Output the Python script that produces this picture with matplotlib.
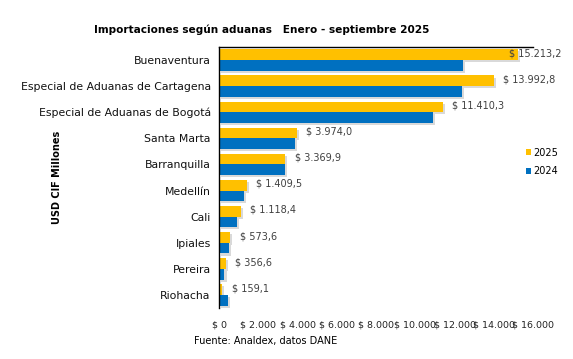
import matplotlib.pyplot as plt
import matplotlib.patheffects as pe
import numpy as np

aduanas = ['Buenaventura', 'Especial de Aduanas de Cartagena', 'Especial de Aduanas de Bogotá',
           'Santa Marta', 'Barranquilla', 'Medellín', 'Cali', 'Ipiales', 'Pereira', 'Riohacha']
valores_2025 = [15213.2, 13992.8, 11410.3, 3974.0, 3369.9, 1409.5, 1118.4, 573.6, 356.6, 159.1]
valores_2024 = [12450, 12400, 10900, 3850, 3350, 1250, 930, 530, 280, 450]
etiquetas_2025 = ['$ 15.213,2', '$ 13.992,8', '$ 11.410,3', '$ 3.974,0', '$ 3.369,9',
                  '$ 1.409,5', '$ 1.118,4', '$ 573,6', '$ 356,6', '$ 159,1']
ticks_x = [0, 2000, 4000, 6000, 8000, 10000, 12000, 14000, 16000]
ticks_lbl = ['$ 0', '$ 2.000', '$ 4.000', '$ 6.000', '$ 8.000', '$ 10.000', '$ 12.000', '$ 14.000', '$ 16.000']

amarillo = '#FFC000'
azul = '#0070C0'

fig = plt.figure(figsize=(5.73, 3.59), dpi=100)
ax = fig.add_axes([219 / 573, 1 - 308 / 359, (533 - 219) / 573, (308 - 47) / 359])

y = np.arange(len(aduanas))
h = 0.41
sombra = [pe.SimplePatchShadow(offset=(1.5, -1.5), alpha=0.2, shadow_rgbFace='#444444'), pe.Normal()]
b25 = ax.barh(y - h / 2, valores_2025, height=h, color=amarillo, label='2025')
b24 = ax.barh(y + h / 2, valores_2024, height=h, color=azul, label='2024')
for b in list(b25) + list(b24):
    b.set_path_effects(sombra)

# etiquetas de datos, la primera se corre para que quepa dentro del grafico
for yi, v, t in zip(y, valores_2025, etiquetas_2025):
    ax.text(min(v + 480, 14800), yi - h / 2 - 0.05, t, va='center', ha='left',
            fontsize=7, color='#404040')

ax.set_ylim(len(aduanas) - 0.5, -0.5)
ax.set_xlim(0, 16000)
ax.set_yticks(y)
ax.set_yticklabels(aduanas, fontsize=7.8, color='#111111')
ax.set_xticks(ticks_x)
ax.set_xticklabels(ticks_lbl, fontsize=6.8, color='#222222')
ax.tick_params(axis='both', length=0, pad=6)
ax.tick_params(axis='x', pad=9)

for s in ['right', 'bottom']:
    ax.spines[s].set_visible(False)
ax.spines['left'].set_linewidth(1.0)
ax.spines['top'].set_linewidth(1.0)

ax.set_ylabel('USD CIF Millones', fontsize=7, fontweight='bold')
ax.yaxis.set_label_coords(-0.5, 0.5)

fig.text(262 / 573, 1 - 30 / 359, 'Importaciones según aduanas   Enero - septiembre 2025',
         ha='center', va='center', fontsize=7.6, fontweight='bold')
fig.text(194 / 573, 1 - 341 / 359, 'Fuente: Analdex, datos DANE', ha='left', va='center', fontsize=7)

leg = ax.legend(loc='center left', bbox_to_anchor=(517 / 573, 1 - 162 / 359), bbox_transform=fig.transFigure,
                frameon=False, fontsize=7, handlelength=0.5, handleheight=0.5, handletextpad=0.3,
                labelspacing=0.9)
for hnd in leg.legend_handles:
    hnd.set_path_effects([])

fig.savefig('out.png', dpi=100)
